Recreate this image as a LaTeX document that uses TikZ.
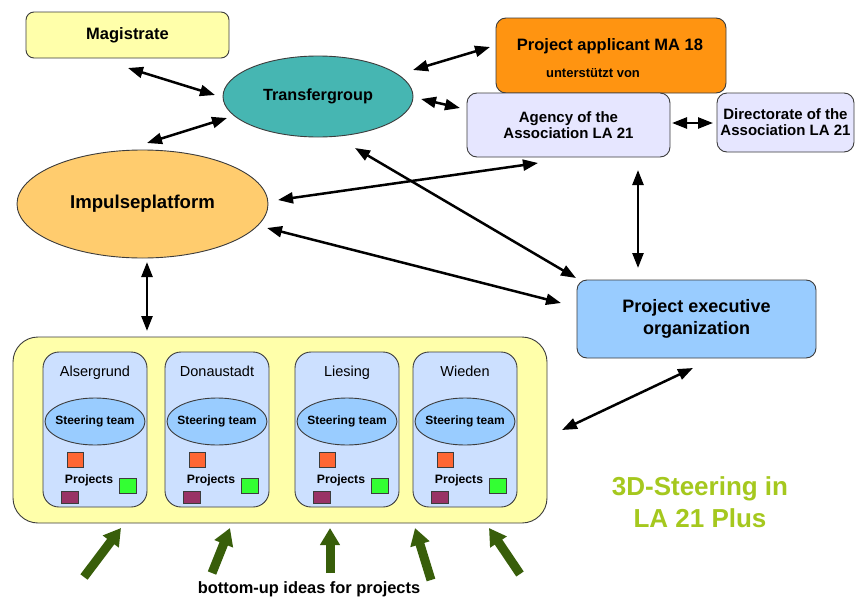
\documentclass[tikz,border=0pt]{standalone}
\usepackage{fontspec}
\setmainfont{Liberation Sans}
\usetikzlibrary{arrows.meta,shapes.geometric}
\definecolor{magfill}{RGB}{255,255,170}
\definecolor{tealfill}{RGB}{70,182,178}
\definecolor{impfill}{RGB}{255,204,110}
\definecolor{appfill}{RGB}{255,148,17}
\definecolor{lavfill}{RGB}{230,230,255}
\definecolor{execfill}{RGB}{153,204,255}
\definecolor{ybg}{RGB}{255,255,170}
\definecolor{distfill}{RGB}{204,224,255}
\definecolor{steerfill}{RGB}{153,204,255}
\definecolor{sqorange}{RGB}{255,102,51}
\definecolor{sqgreen}{RGB}{51,255,51}
\definecolor{sqpurple}{RGB}{153,51,102}
\definecolor{titlegreen}{RGB}{165,200,30}
\definecolor{arrowgreen}{RGB}{56,94,10}
\definecolor{edgegray}{RGB}{60,60,60}
\begin{document}
\begin{tikzpicture}[x=1pt,y=-1pt,
  rbox/.style={draw=edgegray, line width=0.9pt, rounded corners=10pt, inner sep=0pt},
  ebox/.style={ellipse, draw=edgegray, line width=0.9pt, inner sep=0pt},
  biarrow/.style={{Triangle[length=15pt,width=11pt]}-{Triangle[length=15pt,width=11pt]}, line width=2.5pt, black},
  greenarrow/.style={-{Triangle[length=17pt,width=19pt]}, line width=9pt, draw=arrowgreen, fill=arrowgreen},
  bigtxt/.style={font=\bfseries\fontsize{16.5}{18}\selectfont},
  medtxt/.style={font=\bfseries\fontsize{15}{16}\selectfont, align=center}
]
\useasboundingbox (0,0) rectangle (862,597);
\fill[white] (0,0) rectangle (862,597);

% top-left
\node[rbox, rounded corners=8pt, fill=magfill, minimum width=203pt, minimum height=46pt, bigtxt] (mag) at (127.5,35) {Magistrate};
\node[ebox, fill=tealfill, minimum width=190pt, minimum height=81pt, font=\bfseries\fontsize{16.2}{18}\selectfont] (tg) at (318,96.5) {Transfergroup};
\node[ebox, fill=impfill, minimum width=251pt, minimum height=108pt, font=\bfseries\fontsize{18.6}{20}\selectfont] (imp) at (142.5,204) {Impulseplatform};

% top-right
\node[rbox, fill=appfill, minimum width=230pt, minimum height=75pt] (app) at (611,55.5) {};
\node[bigtxt] (apptitle) at (610,46) {Project applicant MA 18};
\node[font=\bfseries\fontsize{13}{15}\selectfont] (appsub) at (593,73) {unterstützt von};
\node[rbox, fill=lavfill, minimum width=203pt, minimum height=64pt, medtxt] (agency) at (568.5,125) {Agency of the\\Association LA 21};
\node[rbox, fill=lavfill, minimum width=137pt, minimum height=59pt, medtxt] (dir) at (785.5,122.5) {Directorate of the\\Association LA 21};
\node[rbox, fill=execfill, minimum width=239pt, minimum height=78pt, font=\bfseries\fontsize{18}{22}\selectfont, align=center] (exec) at (696.5,319) {Project executive\\organization};

% districts
\node[rbox, rounded corners=25pt, fill=ybg, minimum width=534pt, minimum height=186pt] (yb) at (280,430) {};
\foreach \L/\nm/\id in {43/Alsergrund/als,165/Donaustadt/don,295/Liesing/lie,413/Wieden/wie}{
  \node[rbox, rounded corners=16pt, fill=distfill, minimum width=104pt, minimum height=155pt] (\id) at (\L+52,429.5) {};
  \node[font=\fontsize{14.5}{16}\selectfont, anchor=base] (\id title) at (\L+52,376.5) {\nm};
  \node[ebox, fill=steerfill, minimum width=100pt, minimum height=47pt] (\id steer) at (\L+52,421.5) {};
  \node[font=\bfseries\fontsize{12}{14}\selectfont] (\id steertext) at (\L+52,421.5) {Steering team};
  \fill[sqorange, draw=edgegray, line width=0.6pt] (\L+24,452) rectangle (\L+40,467);
  \fill[sqgreen, draw=edgegray, line width=0.6pt] (\L+76,478) rectangle (\L+93,493);
  \fill[sqpurple, draw=edgegray, line width=0.6pt] (\L+18,491) rectangle (\L+35,503);
  \node[font=\bfseries\fontsize{12.2}{14}\selectfont] (\id proj) at (\L+46,480) {Projects};
}

% title and bottom text
\node[text=titlegreen, font=\bfseries\fontsize{26}{32}\selectfont, align=center] (title) at (700,502) {3D-Steering in\\LA 21 Plus};
\node[font=\bfseries\fontsize{16.4}{18}\selectfont, anchor=base] (bottom) at (309,593) {bottom-up ideas for projects};

% arrow end points
\coordinate (a1s) at (128,68);  \coordinate (a1e) at (215,95);
\coordinate (a2s) at (147,143); \coordinate (a2e) at (227,118);
\coordinate (a3s) at (413,70);  \coordinate (a3e) at (490,47);
\coordinate (a4s) at (421,99);  \coordinate (a4e) at (460,108);
\coordinate (a5s) at (672,123); \coordinate (a5e) at (713,123);
\coordinate (a6s) at (278,200); \coordinate (a6e) at (538,163);
\coordinate (a7s) at (267,228); \coordinate (a7e) at (561,303);
\coordinate (a8s) at (355,148); \coordinate (a8e) at (576,278);
\coordinate (a9s) at (638,170); \coordinate (a9e) at (638,268);
\coordinate (a10s) at (147,262); \coordinate (a10e) at (147,331);
\coordinate (a11s) at (693,368); \coordinate (a11e) at (562,430);
\foreach \i in {1,...,11}{\draw[biarrow] (a\i s) -- (a\i e);}

% green arrows
\coordinate (g1s) at (84,577);  \coordinate (g1e) at (121,528);
\coordinate (g2s) at (212,573); \coordinate (g2e) at (230,528);
\coordinate (g3s) at (330,573); \coordinate (g3e) at (330,528);
\coordinate (g4s) at (431,580); \coordinate (g4e) at (415,528);
\coordinate (g5s) at (520,574); \coordinate (g5e) at (489,528);
\foreach \i in {1,...,5}{\draw[greenarrow] (g\i s) -- (g\i e);}
\end{tikzpicture}
\end{document}
